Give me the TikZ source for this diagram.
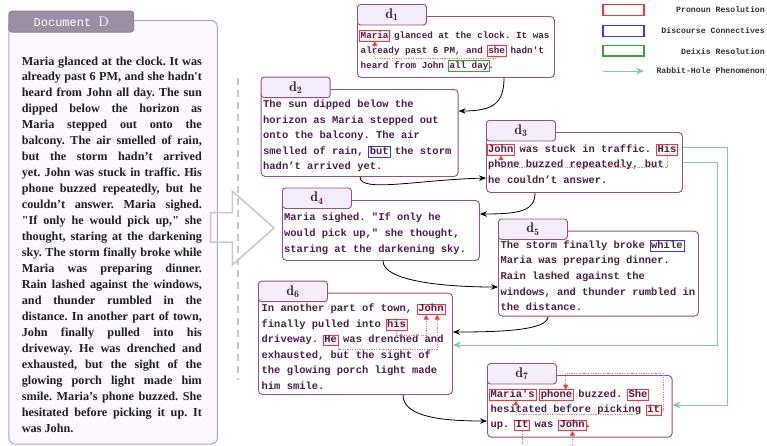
\documentclass[tikz,border=0pt]{standalone}
\usepackage{fontspec}
\newfontfamily\docfont{Liberation Serif}
\newfontfamily\codefont{Liberation Mono}
\usetikzlibrary{arrows.meta,calc}
\definecolor{boxborder}{HTML}{9E4A8B}
\definecolor{tabfill}{HTML}{F4EEFB}
\definecolor{titlecol}{HTML}{4B1D4F}
\definecolor{txtcol}{HTML}{4D1F4D}
\definecolor{docborder}{HTML}{B8A0CC}
\definecolor{docfill}{HTML}{FCF8FE}
\definecolor{doctabcol}{HTML}{9D8FA3}
\definecolor{rabbitcol}{HTML}{7FC8B6}
\definecolor{pronoun}{HTML}{FF3535}
\definecolor{discourse}{HTML}{3535FF}
\definecolor{deixis}{HTML}{33A833}
\definecolor{sepgray}{HTML}{C8C8C8}
\definecolor{legtxtcol}{HTML}{333333}
\frenchspacing
\newcommand\DocLn[2]{\node[docline] (dl#1) at (21.7,{65+(#1-1)*15.96}) {\makebox[180pt][s]{#2}};}
\newcommand\HiWord[7]{\node[#2, minimum width={(#7)*(#5)*1pt+2.4pt}] (#1) at ({#3+(#6)*(#5)-1.2},{#4+3.5}) {};}
\begin{document}
\begin{tikzpicture}[x=1pt,y=-1pt,
  docline/.style={anchor=base west, inner sep=0pt, text=black!88, font=\docfont\bfseries\fontsize{12.2}{16}\selectfont\frenchspacing},
  docbody/.style={draw=docborder, fill=docfill, rounded corners=6pt, line width=1pt, anchor=north west, inner sep=0pt},
  doctabsty/.style={draw=doctabcol!90!black, fill=doctabcol, rounded corners=3pt, line width=0.8pt, anchor=north west, inner sep=0pt, text=white, font=\codefont\fontsize{12}{12}\selectfont},
  ln/.style={anchor=base west, inner sep=0pt, text=txtcol, font=\codefont\bfseries\fontsize{10.45}{12}\selectfont},
  lnA/.style={ln, font=\codefont\bfseries\fontsize{9.25}{11}\selectfont},
  dbody/.style={draw=boxborder, fill=white, rounded corners=4pt, line width=0.9pt, anchor=north west, inner sep=0pt},
  dtab/.style={draw=boxborder, fill=tabfill, rounded corners=3pt, line width=0.9pt, anchor=north west, inner sep=0pt, minimum width=69pt, minimum height=20.5pt, text=titlecol, font=\fontsize{14}{14}\selectfont},
  hlbase/.style={inner sep=0pt, minimum height=10.5pt, anchor=south west},
  pron/.style={hlbase, draw=pronoun, fill=pronoun!6, line width=0.8pt},
  disc/.style={hlbase, draw=discourse, line width=0.8pt},
  deix/.style={hlbase, draw=deixis, line width=0.8pt},
  coref/.style={draw=pronoun!70, dash pattern=on 1.2pt off 1.2pt, line width=0.6pt, -{Triangle[length=4.5pt,width=5pt,color=pronoun]}},
  seq/.style={draw=black, line width=0.8pt, -{Stealth[length=7pt,width=5.5pt]}},
  rabbit/.style={draw=rabbitcol, line width=1pt, -{Stealth[length=8pt,width=7pt]}},
  legbox/.style={minimum width=41pt, minimum height=10.5pt, inner sep=0pt, line width=1.1pt},
  legtxt/.style={anchor=east, inner sep=0pt, text=legtxtcol, font=\codefont\bfseries\fontsize{8.2}{9}\selectfont},
  sepline/.style={draw=sepgray, line width=1.5pt, dash pattern=on 7pt off 5pt},
  bigarrow/.style={draw=sepgray, line width=1.5pt, line join=miter}
]
\useasboundingbox (0,0) rectangle (767,445);

% ---------------- Document D ----------------
\node[docbody, minimum width=208.4pt, minimum height=423.5pt] (docD) at (8.4,20) {};
\node[doctabsty, minimum width=125pt, minimum height=21pt] (docT) at (8.4,10.7) {Document {\rmfamily\fontsize{14}{14}\selectfont D}};
\DocLn{1}{Maria glanced at the clock. It was}
\DocLn{2}{already past 6 PM, and she hadn't}
\DocLn{3}{heard from John all day. The sun}
\DocLn{4}{dipped below the horizon as}
\DocLn{5}{Maria stepped out onto the}
\DocLn{6}{balcony. The air smelled of rain,}
\DocLn{7}{but the storm hadn’t arrived}
\DocLn{8}{yet. John was stuck in traffic. His}
\DocLn{9}{phone buzzed repeatedly, but he}
\DocLn{10}{couldn’t answer. Maria sighed.}
\DocLn{11}{"If only he would pick up," she}
\DocLn{12}{thought, staring at the darkening}
\DocLn{13}{sky. The storm finally broke while}
\DocLn{14}{Maria was preparing dinner.}
\DocLn{15}{Rain lashed against the windows,}
\DocLn{16}{and thunder rumbled in the}
\DocLn{17}{distance. In another part of town,}
\DocLn{18}{John finally pulled into his}
\DocLn{19}{driveway. He was drenched and}
\DocLn{20}{exhausted, but the sight of the}
\DocLn{21}{glowing porch light made him}
\DocLn{22}{smile. Maria’s phone buzzed. She}
\DocLn{23}{hesitated before picking it up. It}
\node[docline] (dl24) at (21.7,{65+23*15.96}) {was John.};

% ---------------- separator and big arrow ----------------
\coordinate (sepTop) at (238,78);
\coordinate (sepBot) at (238,380);
\draw[sepline] (sepTop) -- (sepBot);
\draw[bigarrow] (210.5,212.5) -- (232.3,212.5) -- (232.3,191) -- (274,228) -- (232.3,265) -- (232.3,242) -- (210.5,242) -- cycle;

% ---------------- d1 ----------------
\node[dbody, minimum width=197pt, minimum height=61pt] (d1) at (357,16) {};
\node[dtab] (d1t) at (357,4) {$\mathbf{d}_{\mathbf{1}}$};
\HiWord{maria1}{pron}{360.5}{38}{5.55}{0}{5}
\HiWord{she1}{pron}{360.5}{53}{5.55}{23}{3}
\HiWord{allday1}{deix}{360.5}{68}{5.55}{16}{7}
\node[lnA] (d1a) at (360.5,38) {Maria glanced at the clock. It was};
\node[lnA] (d1b) at (360.5,53) {already past 6 PM, and she hadn't};
\node[lnA] (d1c) at (360.5,68) {heard from John all day.};
\draw[coref] (she1.south) -- ++(0,1.5) -| (maria1.south);

% ---------------- d2 ----------------
\node[dbody, minimum width=197pt, minimum height=87pt] (d2) at (260.7,89) {};
\node[dtab] (d2t) at (260.7,76.7) {$\mathbf{d}_{\mathbf{2}}$};
\HiWord{but2}{disc}{263}{154}{6.27}{17}{3}
\node[ln] (d2a) at (263,107.5) {The sun dipped below the};
\node[ln] (d2b) at (263,123) {horizon as Maria stepped out};
\node[ln] (d2c) at (263,138.5) {onto the balcony. The air};
\node[ln] (d2d) at (263,154) {smelled of rain, but the storm};
\node[ln] (d2e) at (263,169.5) {hadn’t arrived yet.};

% ---------------- d3 ----------------
\node[dbody, minimum width=196pt, minimum height=60pt] (d3) at (486,132) {};
\node[dtab] (d3t) at (486,120) {$\mathbf{d}_{\mathbf{3}}$};
\HiWord{john3}{pron}{488}{152.2}{6.27}{0}{4}
\HiWord{his3}{pron}{488}{152.2}{6.27}{27}{3}
\node[ln] (d3a) at (488,152.2) {John was stuck in traffic. His};
\node[ln] (d3b) at (488,167.9) {phone buzzed repeatedly, but};
\node[ln] (d3c) at (488,183.6) {he couldn’t answer.};
\draw[coref] (his3.south) -- ++(0,11.5) -| (john3.south);

% ---------------- d4 ----------------
\node[dbody, minimum width=197pt, minimum height=60pt] (d4) at (282,200) {};
\node[dtab] (d4t) at (282,187.5) {$\mathbf{d}_{\mathbf{4}}$};
\node[ln] (d4a) at (284,220) {Maria sighed. "If only he};
\node[ln] (d4b) at (284,236) {would pick up," she thought,};
\node[ln] (d4c) at (284,252) {staring at the darkening sky.};

% ---------------- d5 ----------------
\node[dbody, minimum width=200pt, minimum height=85pt] (d5) at (498,230.7) {};
\node[dtab] (d5t) at (498,218.5) {$\mathbf{d}_{\mathbf{5}}$};
\HiWord{while5}{disc}{500.5}{248.2}{6.27}{24}{5}
\node[ln] (d5a) at (500.5,248.2) {The storm finally broke while};
\node[ln] (d5b) at (500.5,263.8) {Maria was preparing dinner.};
\node[ln] (d5c) at (500.5,279.4) {Rain lashed against the};
\node[ln] (d5d) at (500.5,295) {windows, and thunder rumbled in};
\node[ln] (d5e) at (500.5,310.6) {the distance.};

% ---------------- d6 ----------------
\node[dbody, minimum width=194pt, minimum height=101.3pt] (d6) at (258,292.7) {};
\node[dtab] (d6t) at (258,280.7) {$\mathbf{d}_{\mathbf{6}}$};
\HiWord{john6}{pron}{261.5}{311.5}{6.27}{25}{4}
\HiWord{his6}{pron}{261.5}{327}{6.27}{20}{3}
\HiWord{he6}{pron}{261.5}{342.5}{6.27}{10}{2}
\node[ln] (d6a) at (261.5,311.5) {In another part of town, John};
\node[ln] (d6b) at (261.5,327) {finally pulled into his};
\node[ln] (d6c) at (261.5,342.5) {driveway. He was drenched and};
\node[ln] (d6d) at (261.5,358) {exhausted, but the sight of};
\node[ln] (d6e) at (261.5,373.5) {the glowing porch light made};
\node[ln] (d6f) at (261.5,389) {him smile.};
\draw[coref] (his6.south) -- ++(0,5) -| ($(john6.south)+(-5,0)$);
\draw[coref] (he6.south east) -- ++(0,3.3) -| ($(john6.south)+(6,0)$);

% ---------------- d7 ----------------
\node[dbody, minimum width=184.7pt, minimum height=61.7pt] (d7) at (487,375) {};
\node[dtab] (d7t) at (487,363) {$\mathbf{d}_{\mathbf{7}}$};
\HiWord{maria7}{pron}{490.5}{397.2}{6.27}{0}{7}
\HiWord{phone7}{pron}{490.5}{397.2}{6.27}{8}{5}
\HiWord{she7}{pron}{490.5}{397.2}{6.27}{22}{3}
\HiWord{it7}{pron}{490.5}{412.4}{6.27}{25}{2}
\HiWord{itB7}{pron}{490.5}{427.6}{6.27}{4}{2}
\HiWord{john7}{pron}{490.5}{427.6}{6.27}{11}{4}
\node[ln] (d7a) at (490.5,397.2) {Maria's phone buzzed. She};
\node[ln] (d7b) at (490.5,412.4) {hesitated before picking it};
\node[ln] (d7c) at (490.5,427.6) {up. It was John.};
\draw[coref] (it7.east) -- ++(1.8,0) |- ($(phone7.north)+(9,-16)$) -- ($(phone7.north)+(9,0)$);
\draw[coref] (she7.south) -- ++(0,13.5) -| ($(maria7.south)+(3,0)$);
\draw[coref] (itB7.south) -- ++(0,25) -| (john7.south);

% ---------------- sequence connectors ----------------
\draw[seq] ($(d1.south west)+(147,0)$) .. controls +(0,25) and +(35,0) .. ($(d2.north east)+(0,22)$);
\draw[seq] ($(d2.south west)+(99.3,0)$) .. controls +(0,16) and +(-70,2) .. ($(d3.north west)+(0,46)$);
\draw[seq] ($(d3.south west)+(49,0)$) .. controls +(0,18) and +(40,0) .. ($(d4.north east)+(0,14)$);
\draw[seq] ($(d4.south west)+(101,0)$) .. controls +(0,20) and +(-55,0) .. ($(d5.north west)+(0,56.3)$);
\draw[seq] ($(d5.south west)+(50,0)$) .. controls +(0,14) and +(45,0) .. ($(d6.north east)+(0,39.3)$);
\draw[seq] ($(d6.south west)+(145,0)$) .. controls +(0,22) and +(-45,0) .. ($(d7.north west)+(0,46)$);

% ---------------- rabbit-hole connectors ----------------
\draw[rabbit] ($(d3.north east)+(0,15)$) -- ++(45,0) |- ($(d7.north east)+(0,30)$);
\draw[rabbit] ($(d3.north east)+(0,30)$) -- ++(35,0) |- ($(d6.north east)+(0,52.3)$);

% ---------------- legend ----------------
\node[legbox, draw=pronoun] (lgP) at (623.5,10) {};
\node[legtxt] (lgPt) at (765,10) {Pronoun Resolution};
\node[legbox, draw=discourse] (lgD) at (623.5,31) {};
\node[legtxt] (lgDt) at (765,31) {Discourse Connectives};
\node[legbox, draw=deixis] (lgX) at (623.5,50.7) {};
\node[legtxt] (lgXt) at (765,51.5) {Deixis Resolution};
\coordinate (lgR1) at (603,71);
\coordinate (lgR2) at (644,71);
\draw[rabbit] (lgR1) -- (lgR2);
\node[legtxt] (lgRt) at (765,71) {Rabbit-Hole Phenomenon};
\end{tikzpicture}
\end{document}
